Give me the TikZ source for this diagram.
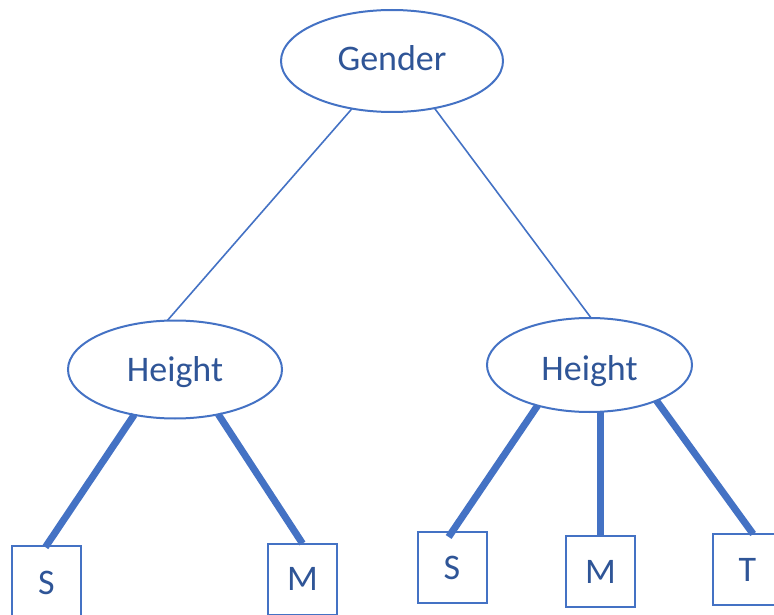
\documentclass[tikz,border=0pt]{standalone}
\usepackage{fontspec}
\setmainfont{Carlito}
\usetikzlibrary{shapes.geometric,calc}
\definecolor{edgeblue}{HTML}{4472C4}
\definecolor{textblue}{HTML}{2F5597}
\begin{document}
\begin{tikzpicture}[x=1pt,y=-1pt,
  every node/.style={font=\fontsize{36}{40}\selectfont, text=textblue,
    inner sep=0pt, outer sep=0pt, text height=23pt, text depth=0pt},
  attr/.style={ellipse, draw=edgeblue, line width=2pt},
  leaf/.style={rectangle, draw=edgeblue, line width=2pt,
    minimum width=69pt, minimum height=71pt},
  thinedge/.style={draw=edgeblue, line width=1.6pt},
  thickedge/.style={draw=edgeblue, line width=7pt}]
\useasboundingbox (0,0) rectangle (774,615);
\clip (0,0) rectangle (774,615);

% attribute nodes
\node[attr, minimum width=222pt, minimum height=102pt, text depth=3pt] (gender) at (392,61) {Gender};
\node[attr, minimum width=214pt, minimum height=98pt] (hleft) at (175,369.5) {Height};
\node[attr, minimum width=205pt, minimum height=94pt, text height=30pt] (hright) at (589.5,365) {Height};

% leaf nodes
\node[leaf, text height=27pt] (sleft) at (46.5,581) {S};
\node[leaf] (mleft) at (302.5,579) {M};
\node[leaf] (sright) at (452,567.5) {S};
\node[leaf] (mright) at (600.5,571.5) {M};
\node[leaf] (tright) at (747.5,569.5) {T};

% first split
\draw[thinedge] (gender.230) -- (hleft.99);
\draw[thinedge] (gender.312.6) -- (hright.88);

% second split
\draw[thickedge, shorten >=-2pt] (hleft.228.5) -- (sleft.north);
\draw[thickedge] (hleft.314.7) -- (mleft.north);
\draw[thickedge, shorten >=-6pt] (hright.218.3) -- (sright.north);
\draw[thickedge] (mright.north |- hright.282) -- (mright.north);
\draw[thickedge] (hright.332.3) -- (tright.81);
\end{tikzpicture}
\end{document}
